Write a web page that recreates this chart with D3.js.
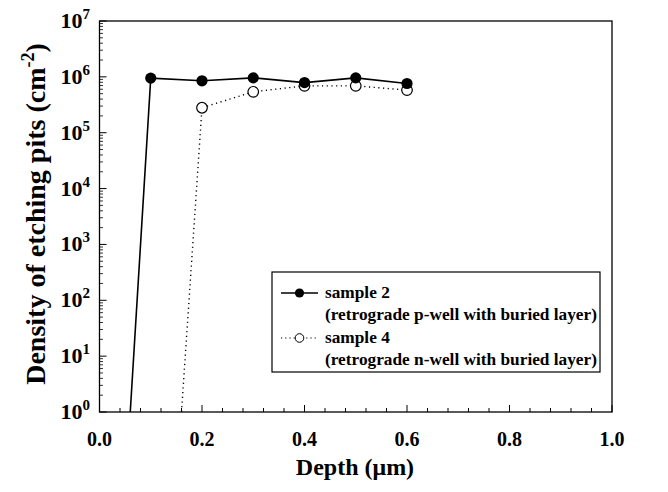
<!DOCTYPE html>
<html><head><meta charset="utf-8">
<script src="https://cdn.jsdelivr.net/npm/d3@7/dist/d3.min.js"></script>
<style>body{margin:0;background:#fff}svg{display:block}text{font-family:"Liberation Serif","Times New Roman",serif;font-weight:bold;fill:#000}</style>
</head><body>
<svg id="c" width="668" height="492"></svg>
<script>
// data
const sample2Depth = [0.06, 0.1, 0.2, 0.3, 0.4, 0.5, 0.6];
const sample2Value = [1, 9.5e5, 8.5e5, 9.6e5, 7.9e5, 9.6e5, 7.6e5];
const sample4Depth = [0.16, 0.2, 0.3, 0.4, 0.5, 0.6];
const sample4Value = [1, 2.8e5, 5.4e5, 6.9e5, 6.9e5, 5.8e5];
const sample2Marked = [false, true, true, true, true, true, true];
const sample4Marked = [false, true, true, true, true, true];
const xTicks = [0.0, 0.2, 0.4, 0.6, 0.8, 1.0];
const xTickLabels = ["0.0", "0.2", "0.4", "0.6", "0.8", "1.0"];
const yExponents = [0, 1, 2, 3, 4, 5, 6, 7];
const legendTitles = ["sample 2", "sample 4"];
const legendSubtitles = ["(retrograde p-well with buried layer)", "(retrograde n-well with buried layer)"];

const svg = d3.select("#c");
const L = 99.5, R = 612, T = 21, B = 412;
const x = d3.scaleLinear().domain([0, 1]).range([L, R]);
const y = d3.scaleLog().domain([1, 1e7]).range([B, T]);

// frame
svg.append("rect").attr("x", L).attr("y", T).attr("width", R - L).attr("height", B - T)
  .attr("fill", "none").attr("stroke", "#000").attr("stroke-width", 1.3);

// x ticks (inward)
const xMinor = d3.range(0, 1.0001, 0.04);
svg.append("g").selectAll("line").data(xMinor).join("line")
  .attr("x1", d => x(d)).attr("x2", d => x(d))
  .attr("y1", B).attr("y2", d => B - (Math.abs(d / 0.2 - Math.round(d / 0.2)) < 1e-6 ? 7 : 4))
  .attr("stroke", "#000").attr("stroke-width", 1);
svg.append("g").selectAll("text").data(xTicks).join("text")
  .attr("x", d => x(d)).attr("y", 446).attr("text-anchor", "middle")
  .attr("font-size", 20).text((d, i) => xTickLabels[i]);

// y ticks (inward)
const yMinor = [];
for (let e = 0; e < 7; e++) for (let m = 2; m <= 9; m++) yMinor.push(m * Math.pow(10, e));
svg.append("g").selectAll("line").data(yMinor).join("line")
  .attr("x1", L).attr("x2", L + 3.5).attr("y1", d => y(d)).attr("y2", d => y(d))
  .attr("stroke", "#000").attr("stroke-width", 0.8);
svg.append("g").selectAll("line").data(yExponents).join("line")
  .attr("x1", L).attr("x2", L + 7).attr("y1", d => y(Math.pow(10, d))).attr("y2", d => y(Math.pow(10, d)))
  .attr("stroke", "#000").attr("stroke-width", 1);
const yl = svg.append("g").selectAll("text").data(yExponents).join("text")
  .attr("x", 90).attr("y", d => y(Math.pow(10, d)) + 7).attr("text-anchor", "end")
  .attr("font-size", 22);
yl.append("tspan").text("10");
yl.append("tspan").attr("font-size", 15).attr("dy", -9).text(d => d);

// axis titles
svg.append("text").attr("x", 355).attr("y", 475).attr("text-anchor", "middle")
  .attr("font-size", 24).text("Depth (\u03bcm)");
const yt = svg.append("text").attr("transform", "translate(45,214) rotate(-90)")
  .attr("text-anchor", "middle").attr("font-size", 28);
yt.append("tspan").text("Density of etching pits (cm");
yt.append("tspan").attr("font-size", 18).attr("dy", -11).text("-2");
yt.append("tspan").attr("dy", 11).text(")");

// series
const clip = svg.append("clipPath").attr("id", "pc").append("rect")
  .attr("x", L).attr("y", T).attr("width", R - L).attr("height", B - T);
const line = d3.line().x(d => x(d[0])).y(d => y(d[1]));
const s2 = sample2Depth.map((d, i) => [d, sample2Value[i], sample2Marked[i]]);
const s4 = sample4Depth.map((d, i) => [d, sample4Value[i], sample4Marked[i]]);
svg.append("path").datum(s4).attr("d", line).attr("fill", "none").attr("stroke", "#000")
  .attr("stroke-width", 1.4).attr("stroke-dasharray", "1.2,3.5").attr("clip-path", "url(#pc)");
svg.append("path").datum(s2).attr("d", line).attr("fill", "none").attr("stroke", "#000")
  .attr("stroke-width", 1.6).attr("clip-path", "url(#pc)");
svg.append("g").selectAll("circle").data(s4.filter(d => d[2])).join("circle")
  .attr("cx", d => x(d[0])).attr("cy", d => y(d[1])).attr("r", 5.3)
  .attr("fill", "#fff").attr("stroke", "#000").attr("stroke-width", 1.2);
svg.append("g").selectAll("circle").data(s2.filter(d => d[2])).join("circle")
  .attr("cx", d => x(d[0])).attr("cy", d => y(d[1])).attr("r", 5.6)
  .attr("fill", "#000");

// legend
const lg = svg.append("g");
lg.append("rect").attr("x", 272).attr("y", 272).attr("width", 328).attr("height", 100)
  .attr("fill", "#fff").attr("stroke", "#000").attr("stroke-width", 1.2);
[0, 1].forEach(i => {
  const yy = 293 + i * 45;
  lg.append("line").attr("x1", 281).attr("x2", 318).attr("y1", yy).attr("y2", yy)
    .attr("stroke", "#000").attr("stroke-width", i === 0 ? 1.6 : 1.2)
    .attr("stroke-dasharray", i === 0 ? null : "1.2,3");
  lg.append("circle").attr("cx", 299.5).attr("cy", yy).attr("r", i === 0 ? 4.6 : 4.3)
    .attr("fill", i === 0 ? "#000" : "#fff").attr("stroke", "#000").attr("stroke-width", i === 0 ? 0 : 1);
  lg.append("text").attr("x", 325).attr("y", yy + 5).attr("font-size", 17.3).text(legendTitles[i]);
  lg.append("text").attr("x", 325).attr("y", yy + 27).attr("font-size", 17.3).text(legendSubtitles[i]);
});
</script>
</body></html>
